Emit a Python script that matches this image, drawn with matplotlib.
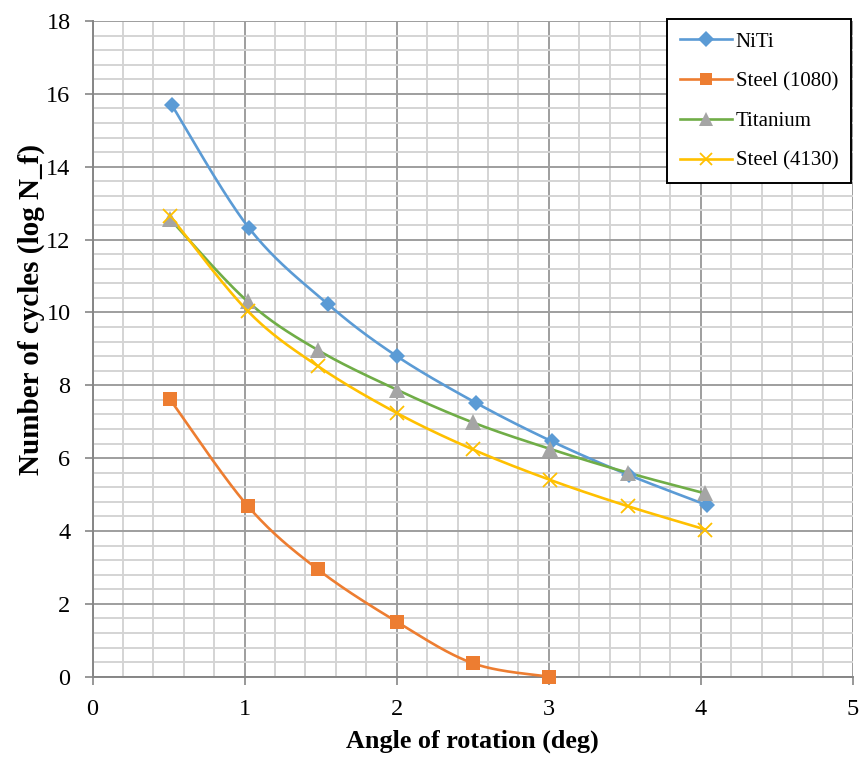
import numpy as np
import matplotlib
matplotlib.use("Agg")
import matplotlib.pyplot as plt
from matplotlib.ticker import MultipleLocator

plt.rcParams["font.family"] = ["Liberation Serif", "DejaVu Serif"]

# angle of rotation (deg) and log cycles to failure for each material
niti_x = [0.52, 1.03, 1.55, 2.00, 2.52, 3.02, 3.53, 4.04]
niti_y = [15.70, 12.31, 10.22, 8.80, 7.52, 6.46, 5.53, 4.71]

steel1080_x = [0.51, 1.02, 1.48, 2.00, 2.50, 3.00]
steel1080_y = [7.61, 4.69, 2.95, 1.51, 0.37, 0.00]

titanium_x = [0.51, 1.02, 1.48, 2.00, 2.50, 3.01, 3.52, 4.03]
titanium_y = [12.56, 10.30, 8.97, 7.88, 6.98, 6.25, 5.60, 5.03]

steel4130_x = [0.51, 1.02, 1.48, 2.00, 2.50, 3.01, 3.52, 4.03]
steel4130_y = [12.65, 10.04, 8.53, 7.24, 6.24, 5.40, 4.68, 4.04]


def smooth_curve(xs, ys, n=40):
    # spreadsheet-style smoothed line: Catmull-Rom segments as cubic Beziers
    p = np.column_stack([xs, ys]).astype(float)
    pts = [p[0]]
    t = np.linspace(0, 1, n)[1:, None]
    for i in range(len(p) - 1):
        p0 = p[i - 1] if i > 0 else p[i]
        p1, p2 = p[i], p[i + 1]
        p3 = p[i + 2] if i + 2 < len(p) else p[i + 1]
        c1 = p1 + (p2 - p0) / 6.0
        c2 = p2 - (p3 - p1) / 6.0
        seg = ((1 - t) ** 3) * p1 + 3 * ((1 - t) ** 2) * t * c1 \
            + 3 * (1 - t) * t ** 2 * c2 + t ** 3 * p2
        pts.extend(seg)
    pts = np.array(pts)
    return pts[:, 0], pts[:, 1]


fig = plt.figure(figsize=(8.65, 7.64), dpi=100)
ax = fig.add_axes([92.5 / 865, 1 - 676.7 / 764, (853 - 92.5) / 865, (676.7 - 21) / 764])

series = [
    ("NiTi", niti_x, niti_y, "#5B9BD5", "#5B9BD5", "D", 8.5, 0),
    ("Steel (1080)", steel1080_x, steel1080_y, "#ED7D31", "#ED7D31", "s", 10, 0),
    ("Titanium", titanium_x, titanium_y, "#70AD47", "#A5A5A5", "^", 11, 0),
    ("Steel (4130)", steel4130_x, steel4130_y, "#FFC000", "#FFC000", "x", 10, 1.3),
]

handles = []
for name, xs, ys, lc, mc, mk, ms, mew in series:
    sx, sy = smooth_curve(xs, ys)
    ax.plot(sx, sy, color=lc, lw=1.9, zorder=3, solid_capstyle="round")
    ax.plot(xs, ys, ls="none", marker=mk, ms=ms, color=mc, mec=mc,
            mew=mew, zorder=4, clip_on=False)
    h, = ax.plot([], [], color=lc, lw=1.9, marker=mk, ms=ms * 0.9,
                 mfc=mc, mec=mc, mew=mew)
    handles.append(h)

ax.set_xlim(0, 5)
ax.set_ylim(0, 18)
ax.xaxis.set_major_locator(MultipleLocator(1))
ax.xaxis.set_minor_locator(MultipleLocator(0.2))
ax.yaxis.set_major_locator(MultipleLocator(2))
ax.yaxis.set_minor_locator(MultipleLocator(0.4))

ax.grid(which="minor", color="#D4D4D4", lw=1.4, zorder=0)
ax.grid(which="major", color="#9E9E9E", lw=1.4, zorder=1)
ax.set_axisbelow(True)

for side in ("top", "right"):
    ax.spines[side].set_visible(False)
for side in ("left", "bottom"):
    ax.spines[side].set_color("#868686")
    ax.spines[side].set_linewidth(1.4)

ax.tick_params(which="major", length=5.8, width=1.2, color="#868686",
               labelsize=17.5, pad=10)
ax.tick_params(which="minor", length=0)

ax.set_xlabel("Angle of rotation (deg)", fontsize=18.8, fontweight="bold")
ax.xaxis.set_label_coords(0.5, -0.081)
ax.set_ylabel("Number of cycles (log N_f)", fontsize=21, fontweight="bold")
ax.yaxis.set_label_coords(-0.062, 0.56)

leg = fig.legend(handles, [s[0] for s in series], loc="upper left",
                 bbox_to_anchor=(667 / 865, 1 - 19.5 / 764), borderaxespad=0,
                 fontsize=15, frameon=True, fancybox=False,
                 edgecolor="black", framealpha=1, handlelength=2.5,
                 labelspacing=0.97, borderpad=0.6, handletextpad=0.2)
leg.get_frame().set_linewidth(1.4)

fig.savefig("out.png", dpi=100)
